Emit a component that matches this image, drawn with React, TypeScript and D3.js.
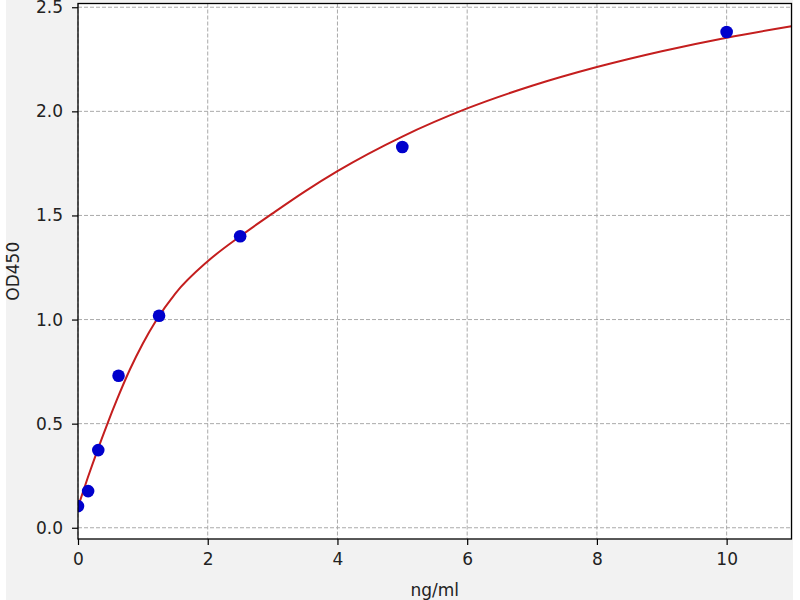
import React, { useEffect, useRef } from 'react';
import * as d3 from 'd3';

// standard points (ng/ml vs OD450)
const concentrations = [0, 0.156, 0.3125, 0.625, 1.25, 2.5, 5, 10];
const odValues = [0.104, 0.176, 0.373, 0.73, 1.018, 1.4, 1.829, 2.381];

// fitted curve
const curveX = [0, 0.15, 0.3, 0.45, 0.6, 0.8, 1, 1.2, 1.5, 2, 2.5, 3, 3.5, 4, 5, 6, 7, 8, 9, 10, 11];
const curveY = [0.1, 0.24, 0.372, 0.497, 0.615, 0.76, 0.885, 0.993, 1.125, 1.28, 1.4, 1.51, 1.616, 1.713, 1.879, 2.014, 2.123, 2.213, 2.289, 2.354, 2.409];

const xTicks = [0, 2, 4, 6, 8, 10];
const yTicks = [0, 0.5, 1, 1.5, 2, 2.5];

const App: React.FC = () => {
  const svgRef = useRef<SVGSVGElement>(null);

  useEffect(() => {
    const width = 800;
    const height = 600;
    const left = 78;
    const right = 791.5;
    const top = 3.5;
    const bottom = 539;

    const svg = d3.select(svgRef.current)
      .attr('width', width)
      .attr('height', height)
      .attr('viewBox', [0, 0, width, height]);
    svg.selectAll('*').remove();

    svg.append('rect')
      .attr('x', 0).attr('y', 0).attr('width', width).attr('height', height)
      .attr('fill', '#ffffff');
    svg.append('rect')
      .attr('x', 6).attr('y', 0).attr('width', 787).attr('height', height)
      .attr('fill', '#f2f2f2');
    svg.append('rect')
      .attr('x', left).attr('y', top).attr('width', right - left).attr('height', bottom - top)
      .attr('fill', '#ffffff');

    const x = d3.scaleLinear().domain([0, 11]).range([left, right]);
    const y = d3.scaleLinear().domain([-0.054, 2.518]).range([bottom, top]);

    svg.append('clipPath').attr('id', 'plot-clip')
      .append('rect')
      .attr('x', left).attr('y', top).attr('width', right - left).attr('height', bottom - top);

    // grid
    const grid = svg.append('g')
      .attr('stroke', '#aaaaaa')
      .attr('stroke-width', 1)
      .attr('stroke-dasharray', '4,2');
    xTicks.forEach(t => {
      grid.append('line')
        .attr('x1', x(t)).attr('x2', x(t))
        .attr('y1', top).attr('y2', bottom);
    });
    yTicks.forEach(t => {
      grid.append('line')
        .attr('x1', left).attr('x2', right)
        .attr('y1', y(t)).attr('y2', y(t));
    });

    const plot = svg.append('g').attr('clip-path', 'url(#plot-clip)');

    const line = d3.line<number>()
      .x((d, i) => x(curveX[i]))
      .y(d => y(d))
      .curve(d3.curveMonotoneX);

    plot.append('path')
      .datum(curveY)
      .attr('d', line)
      .attr('fill', 'none')
      .attr('stroke', '#c41e1e')
      .attr('stroke-width', 2);

    plot.selectAll('circle')
      .data(concentrations)
      .enter()
      .append('circle')
      .attr('cx', d => x(d))
      .attr('cy', (d, i) => y(odValues[i]))
      .attr('r', 6.3)
      .attr('fill', '#0000cc');

    // axes
    const axisX = svg.append('g')
      .attr('transform', `translate(0,${bottom})`)
      .call(d3.axisBottom(x).tickValues(xTicks).tickSize(6).tickPadding(8).tickFormat(d3.format('d')));
    const axisY = svg.append('g')
      .attr('transform', `translate(${left},0)`)
      .call(d3.axisLeft(y).tickValues(yTicks).tickSize(6).tickPadding(9).tickFormat(d3.format('.1f')));

    [axisX, axisY].forEach(a => {
      a.select('.domain').remove();
      a.selectAll('line').attr('stroke', '#000').attr('stroke-width', 1.2);
      a.selectAll('text')
        .attr('fill', '#222')
        .style('font-family', '"DejaVu Sans", sans-serif')
        .style('font-size', '17px');
    });

    // frame
    svg.append('rect')
      .attr('x', left).attr('y', top).attr('width', right - left).attr('height', bottom - top)
      .attr('fill', 'none')
      .attr('stroke', '#000')
      .attr('stroke-width', 1.3);

    svg.append('text')
      .attr('x', (left + right) / 2)
      .attr('y', 596)
      .attr('text-anchor', 'middle')
      .attr('fill', '#222')
      .style('font-family', '"DejaVu Sans", sans-serif')
      .style('font-size', '17px')
      .text('ng/ml');

    svg.append('text')
      .attr('transform', `translate(19,${(top + bottom) / 2}) rotate(-90)`)
      .attr('text-anchor', 'middle')
      .attr('fill', '#222')
      .style('font-family', '"DejaVu Sans", sans-serif')
      .style('font-size', '17px')
      .text('OD450');
  }, []);

  return (
    <svg ref={svgRef} style={{ position: 'absolute', left: 0, top: 0 }}></svg>
  );
};

export default App;
